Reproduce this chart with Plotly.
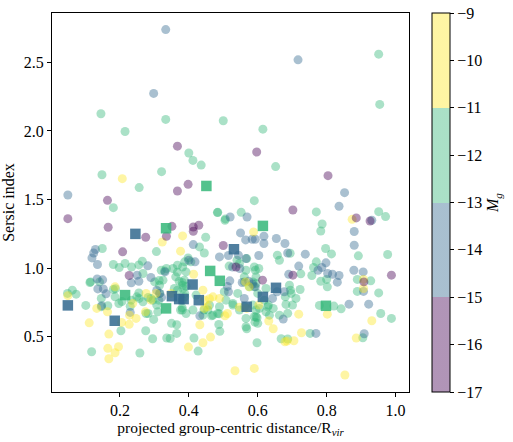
import plotly.graph_objects as go

# ---------------- data ----------------
# circles: (projected distance / R_vir, Sersic index), grouped by M_g bin
purple_dist = [0.367, 0.597, 0.367, 0.398, 0.164, 0.049, 0.702, 0.804, 0.886, 0.926, 0.166, 0.275, 0.335,
               0.208, 0.227, 0.351, 0.413, 0.429, 0.413, 0.500, 0.537, 0.614, 0.702, 0.908, 0.988]
purple_sersic = [1.889, 1.846, 1.562, 1.611, 1.494, 1.361, 1.424, 1.674, 1.366, 1.344, 1.298, 1.225, 1.233,
                 1.119, 0.947, 1.305, 1.300, 1.313, 1.269, 1.165, 1.009, 0.913, 0.949, 0.900, 0.949]
purple_mg = -16.0

blue_dist = [0.333, 0.298, 0.717, 0.852, 0.836, 0.049, 0.520, 0.569, 0.931,
             0.129, 0.124, 0.119, 0.135, 0.281, 0.250, 0.290, 0.331,
             0.134, 0.150, 0.136, 0.152, 0.160, 0.233, 0.255,
             0.307, 0.316, 0.321, 0.147, 0.230, 0.413,
             0.550, 0.565, 0.584, 0.593, 0.618, 0.618, 0.654, 0.679, 0.687,
             0.544, 0.515, 0.566, 0.603, 0.418, 0.527, 0.548,
             0.519, 0.512, 0.515, 0.555, 0.574, 0.585, 0.593,
             0.677, 0.432, 0.674, 0.643,
             0.880, 0.880, 0.738, 0.719, 0.775, 0.786, 0.798, 0.803, 0.817, 0.836, 0.831, 0.879, 0.906, 0.907, 0.865, 0.922,
             0.769, 0.909, 0.400, 0.489, 0.690, 0.656, 0.561]
blue_sersic = [2.738, 2.273, 2.518, 1.550, 1.451, 1.533, 1.373, 1.373, 1.349,
               1.136, 1.111, 1.075, 1.027, 1.017, 0.949, 0.932, 0.973,
               0.922, 0.915, 0.849, 0.849, 0.813, 0.893, 0.905,
               0.838, 0.816, 0.787, 0.726, 0.678, 1.172,
               1.257, 1.206, 1.211, 1.211, 1.233, 1.180, 1.216, 1.180, 1.111,
               1.095, 1.092, 1.070, 1.092, 1.046, 1.009, 0.998,
               0.908, 0.867, 0.828, 0.896, 0.905, 0.884, 0.864,
               0.828, 0.653, 0.629, 0.780,
               1.267, 1.167, 1.102, 1.015, 0.985, 1.005, 1.039, 0.961, 0.956, 0.947, 0.898, 0.985, 0.973, 0.831, 0.738, 0.738,
               0.525, 0.522, 1.058, 1.082, 0.955, 0.828, 0.780]
blue_mg = -14.0

green_dist = [0.145, 0.333, 0.500, 0.215, 0.400, 0.412, 0.436, 0.148, 0.321, 0.256, 0.181, 0.590, 0.484, 0.552,
              0.506, 0.951, 0.954, 0.615, 0.652, 0.770, 0.951, 0.971,
              0.149, 0.306, 0.181, 0.198, 0.215, 0.234, 0.255, 0.265, 0.267, 0.314, 0.113, 0.187, 0.048, 0.062,
              0.073, 0.255, 0.101, 0.165, 0.197, 0.203, 0.118, 0.258, 0.275, 0.295, 0.336, 0.298, 0.282,
              0.449, 0.657, 0.398, 0.388, 0.406, 0.367, 0.382, 0.354, 0.367,
              0.517, 0.566, 0.593, 0.603,
              0.362, 0.372, 0.387, 0.382, 0.367, 0.358,
              0.483, 0.505,
              0.787, 0.783, 0.892, 0.977, 0.694, 0.797, 0.814, 0.770, 0.762, 0.757, 0.725, 0.783, 0.800, 0.802,
              0.723, 0.695, 0.889, 0.928, 0.889, 0.951,
              0.779, 0.821, 0.842, 0.957, 0.988, 0.752, 0.905,
              0.427, 0.415, 0.365, 0.490, 0.487, 0.568, 0.592, 0.598, 0.598, 0.668, 0.346, 0.365, 0.350, 0.466,
              0.488, 0.376, 0.381, 0.412, 0.444, 0.682, 0.645, 0.631,
              0.697, 0.680, 0.701, 0.687,
              0.586, 0.590, 0.600, 0.619, 0.629, 0.634, 0.624, 0.595, 0.590, 0.600,
              0.687,
              0.115, 0.141, 0.146, 0.146, 0.181, 0.186, 0.206, 0.233, 0.230, 0.249, 0.267, 0.276, 0.296, 0.307,
              0.325, 0.315, 0.315, 0.330,
              0.381, 0.392, 0.388, 0.381, 0.381, 0.392, 0.421, 0.441, 0.455, 0.470, 0.489, 0.484, 0.508, 0.528,
              0.547, 0.562, 0.566, 0.595, 0.566,
              0.445, 0.431, 0.540, 0.547, 0.568, 0.590, 0.595, 0.595, 0.561, 0.561,
              0.256, 0.282, 0.290, 0.313,
              0.301, 0.320, 0.335, 0.392, 0.383, 0.388, 0.310, 0.460, 0.503, 0.542, 0.576, 0.624, 0.663, 0.692,
              0.711, 0.663, 0.586, 0.605, 0.528]
green_sersic = [2.125, 2.084, 2.074, 1.996, 1.839, 1.785, 1.751, 1.681, 1.703, 1.587, 1.441, 1.492, 1.407, 1.407,
                1.359, 2.559, 2.193, 2.013, 1.740, 1.410, 1.412, 1.376,
                1.143, 1.121, 1.027, 1.005, 1.034, 1.009, 1.024, 1.051, 0.961, 0.910, 0.896, 0.850, 0.816, 0.840,
                0.811, 0.820, 0.729, 0.726, 0.743, 0.544, 0.391, 0.382, 0.544, 0.486, 0.491, 0.627, 0.670,
                1.225, 1.095, 1.075, 1.046, 1.046, 1.022, 1.009, 0.998, 0.971,
                1.015, 0.985, 0.985, 0.998,
                0.937, 0.905, 0.913, 0.876, 0.840, 0.852,
                1.405, 1.349,
                1.322, 1.271, 1.090, 1.100, 1.109, 1.143, 1.104, 1.046, 1.005, 0.947, 0.959, 0.905, 0.918, 0.864,
                0.845, 0.840, 0.918, 0.908, 0.831, 0.820,
                0.729, 0.724, 0.704, 0.670, 0.634, 0.525, 0.493,
                0.396, 0.491, 0.525, 0.540, 0.590, 0.559, 0.607, 0.639, 0.457, 0.486, 0.488, 0.588, 0.598, 0.653,
                0.668, 0.695, 0.711, 0.695, 0.695, 0.736, 0.707, 0.731,
                0.816, 0.791, 0.731, 0.671,
                0.900, 0.864, 0.816, 0.767, 0.719, 0.658, 0.682, 0.695, 0.646, 0.598,
                0.484,
                0.900, 0.900, 0.780, 0.719, 0.845, 0.791, 0.757, 0.767, 0.723, 0.791, 0.755, 0.670, 0.767, 0.731,
                0.913, 0.876, 0.816, 0.980,
                0.896, 0.869, 0.816, 0.767, 0.695, 0.670, 0.804, 0.658, 0.695, 0.658, 0.719, 0.670, 0.767, 0.743,
                0.695, 0.719, 0.634, 0.646, 0.573,
                1.111, 1.155, 1.058, 1.034, 1.070, 1.009, 0.937, 0.889, 0.937, 0.900,
                0.780, 0.787, 0.780, 0.767,
                0.900, 0.985, 0.998, 0.973, 0.852, 0.791, 0.682, 0.731, 0.828, 0.816, 0.864, 0.852, 1.058, 0.876,
                0.780, 0.658, 0.731, 0.707, 0.731]
green_mg = -12.0

yellow_dist = [0.207, 0.874, 0.323, 0.186, 0.049, 0.276, 0.133, 0.164, 0.111, 0.168, 0.165, 0.196, 0.186, 0.168,
               0.205, 0.227, 0.247, 0.237,
               0.399, 0.441, 0.463, 0.432, 0.534, 0.590, 0.632, 0.645, 0.679, 0.505, 0.512, 0.547, 0.568, 0.603,
               0.382, 0.376, 0.414, 0.565, 0.575, 0.588, 0.907, 0.907, 0.802, 0.719, 0.727, 0.705, 0.685, 0.931,
               0.886, 0.853,
               0.349, 0.470, 0.445, 0.455, 0.441, 0.489, 0.228, 0.274, 0.290, 0.305, 0.447, 0.460]
yellow_sersic = [1.652, 1.356, 1.191, 0.864, 0.800, 0.816, 0.707, 0.682, 0.602, 0.520, 0.416, 0.428, 0.384, 0.340,
                 0.605, 0.591, 0.634, 0.743,
                 0.425, 0.457, 0.498, 0.588, 0.253, 0.270, 0.615, 0.559, 0.464, 0.653, 0.670, 0.716, 0.707, 0.731,
                 1.235, 1.124, 0.956, 0.900, 0.864, 1.264, 0.918, 0.852, 0.665, 0.665, 0.530, 0.471, 0.469, 0.617,
                 0.491, 0.222,
                 0.816, 0.791, 0.707, 0.719, 0.840, 0.780, 0.658, 0.682, 0.767, 0.816, 0.767, 0.777]
yellow_mg = -10.0

# squares
square_dist = [0.049, 0.185, 0.245, 0.351, 0.372, 0.385, 0.411, 0.429, 0.531, 0.568, 0.615, 0.653,
               0.215, 0.334, 0.334, 0.451, 0.462, 0.490, 0.615, 0.798]
square_sersic = [0.729, 0.617, 1.250, 0.796, 0.775, 0.775, 0.881, 0.767, 1.138, 0.719, 0.791, 0.857,
                 0.804, 1.291, 0.707, 1.599, 0.980, 0.908, 1.308, 0.726]
square_mg = [-14, -14, -14, -14, -14, -14, -14, -14, -14, -14, -14, -14,
             -12, -12, -12, -12, -12, -12, -12, -12]

mg_ticks = [-17, -16, -15, -14, -13, -12, -11, -10, -9]
x_ticks = [0.2, 0.4, 0.6, 0.8, 1.0]
y_ticks = [0.5, 1.0, 1.5, 2.0, 2.5]

# ---------------- styling ----------------
viridis4 = [(68, 1, 84), (49, 104, 142), (53, 183, 121), (253, 231, 37)]


def stepped(alpha):
    cs = []
    for i, (r, g, b) in enumerate(viridis4):
        c = f"rgba({r},{g},{b},{alpha})"
        cs.append([i / 4, c])
        cs.append([(i + 1) / 4, c])
    return cs


FONT = "Liberation Serif, Times New Roman, serif"

circ_x = green_dist + blue_dist + yellow_dist + purple_dist
circ_y = green_sersic + blue_sersic + yellow_sersic + purple_sersic
circ_c = ([green_mg] * len(green_dist) + [blue_mg] * len(blue_dist)
          + [yellow_mg] * len(yellow_dist) + [purple_mg] * len(purple_dist))

fig = go.Figure()
fig.add_trace(go.Scatter(
    x=circ_x, y=circ_y, mode="markers",
    marker=dict(size=9, color=circ_c, colorscale=stepped(0.42), cmin=-17, cmax=-9,
                line=dict(width=0),
                colorbar=dict(
                    x=(432 - 52) / 357, xanchor="left", xpad=0,
                    y=0.5, yanchor="middle", len=1, lenmode="fraction", ypad=0,
                    thickness=18, outlinewidth=1, outlinecolor="black",
                    tickmode="array", tickvals=mg_ticks,
                    ticks="outside", ticklen=4, tickwidth=1, tickcolor="black",
                    tickfont=dict(family=FONT, size=16, color="black"),
                    title=dict(text="<i>M<sub>g</sub></i>", side="right",
                               font=dict(family=FONT, size=16, color="black")),
                )),
    showlegend=False, hoverinfo="skip",
))
fig.add_trace(go.Scatter(
    x=square_dist, y=square_sersic, mode="markers",
    marker=dict(symbol="square", size=10.5, color=square_mg, colorscale=stepped(0.85),
                cmin=-17, cmax=-9, line=dict(width=0), showscale=False),
    showlegend=False, hoverinfo="skip",
))

axis_common = dict(showline=True, linecolor="black", linewidth=1, mirror=True,
                   ticks="outside", ticklen=4, tickwidth=1, tickcolor="black",
                   showgrid=False, zeroline=False,
                   tickfont=dict(family=FONT, size=16, color="black"))

fig.update_xaxes(range=[0.003, 1.039], tickvals=x_ticks, ticktext=["0.2", "0.4", "0.6", "0.8", "1.0"],
                 title=dict(text="projected group-centric distance/R<sub><i>vir</i></sub>",
                            font=dict(family=FONT, size=15.5, color="black"), standoff=3),
                 **axis_common)
fig.update_yaxes(range=[0.098, 2.859], tickvals=y_ticks, ticktext=["0.5", "1.0", "1.5", "2.0", "2.5"],
                 title=dict(text="Sersic index", font=dict(family=FONT, size=16, color="black"), standoff=6),
                 **axis_common)

fig.update_layout(
    width=513, height=442,
    margin=dict(l=52, r=104, t=13, b=50, autoexpand=False),
    paper_bgcolor="white", plot_bgcolor="white",
    font=dict(family=FONT, size=16, color="black"),
)

fig.write_html("out.html", config={"displayModeBar": False},
               post_script="document.body.style.margin='0';document.body.style.padding='0';")
